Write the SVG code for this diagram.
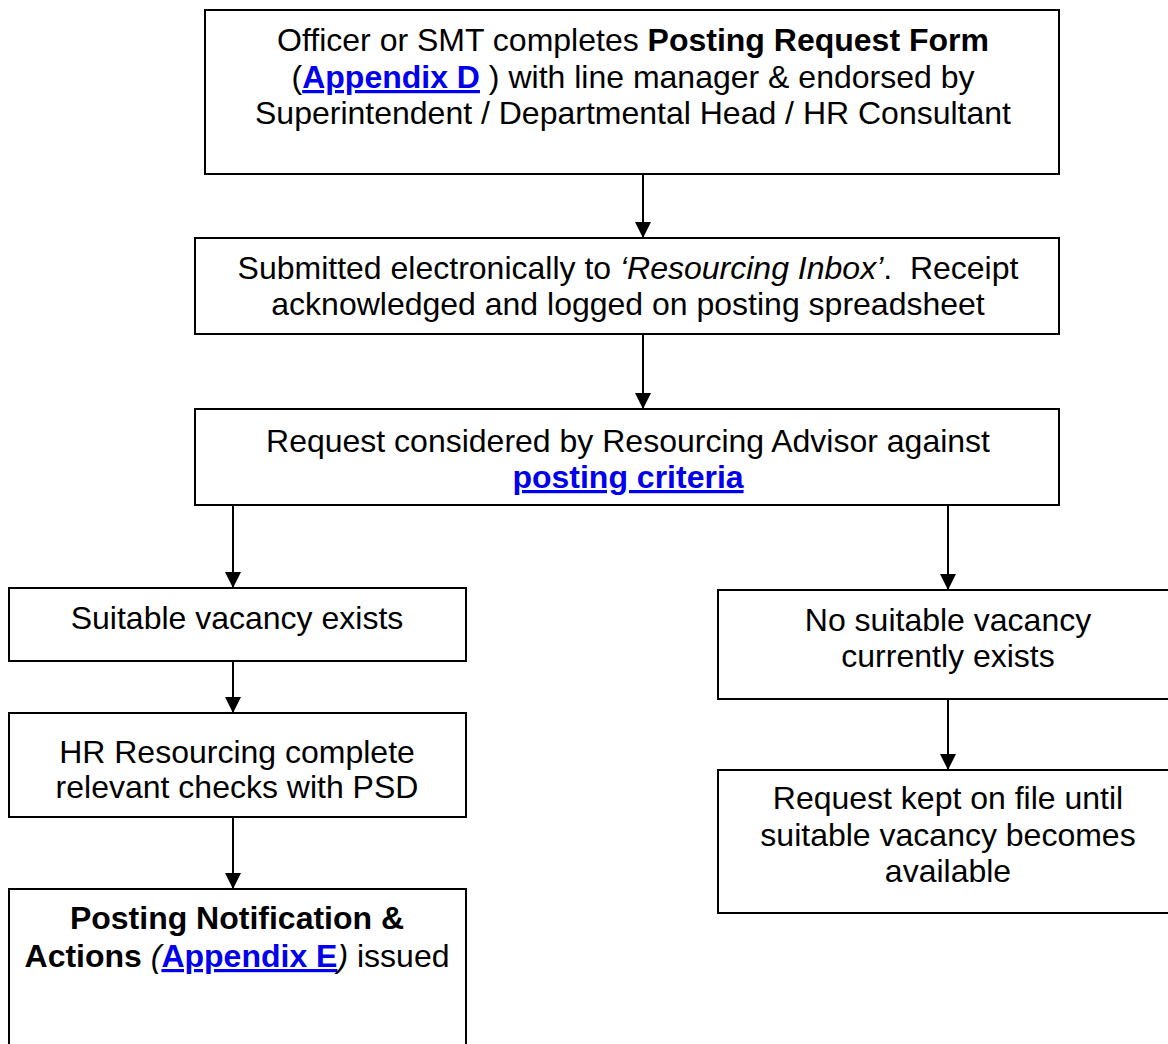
<svg xmlns="http://www.w3.org/2000/svg" width="1168" height="1044" viewBox="0 0 1168 1044">
<style>
.box{fill:#fff;stroke:#000;stroke-width:2}
.t{font-family:"Liberation Sans",Arial,sans-serif;font-size:32px;fill:#000;text-anchor:middle}
.b{font-weight:bold}
.i{font-style:italic}
.lnk{font-weight:bold;fill:#0000ee;text-decoration:underline}
.con{stroke:#000;stroke-width:2;fill:none;marker-end:url(#ah)}
</style>
<defs>
<marker id="ah" markerWidth="8" markerHeight="8" refX="8" refY="4" orient="auto" markerUnits="strokeWidth">
<path d="M0,0 L8,4 L0,8 Z" fill="#000"/>
</marker>
</defs>
<rect width="1168" height="1044" fill="#fff"/>
<g id="connectors">
<line class="con" x1="643" y1="174" x2="643" y2="238"/>
<line class="con" x1="643" y1="334" x2="643" y2="409"/>
<line class="con" x1="233" y1="505" x2="233" y2="588"/>
<line class="con" x1="948" y1="505" x2="948" y2="590"/>
<line class="con" x1="233" y1="661" x2="233" y2="713"/>
<line class="con" x1="233" y1="817" x2="233" y2="889"/>
<line class="con" x1="948" y1="699" x2="948" y2="770"/>
</g>
<g id="n1">
<rect class="box" x="205" y="10" width="854" height="164"/>
<text class="t" y="51"><tspan x="633">Officer or SMT completes <tspan class="b">Posting Request Form</tspan></tspan><tspan x="633" y="88">(<tspan class="lnk">Appendix D</tspan> ) with line manager &amp; endorsed by</tspan><tspan x="633" y="124">Superintendent / Departmental Head / HR Consultant</tspan></text>
</g>
<g id="n2">
<rect class="box" x="195" y="238" width="864" height="96"/>
<text class="t" y="279"><tspan x="628">Submitted electronically to <tspan class="i">‘Resourcing Inbox’</tspan>.&#160; Receipt</tspan><tspan x="628" y="315">acknowledged and logged on posting spreadsheet</tspan></text>
</g>
<g id="n3">
<rect class="box" x="195" y="409" width="864" height="96"/>
<text class="t" y="452"><tspan x="628">Request considered by Resourcing Advisor against</tspan><tspan x="628" y="488" class="lnk">posting criteria</tspan></text>
</g>
<g id="n4">
<rect class="box" x="9" y="588" width="457" height="73"/>
<text class="t" x="237" y="629">Suitable vacancy exists</text>
</g>
<g id="n5">
<rect class="box" x="9" y="713" width="457" height="104"/>
<text class="t" y="763"><tspan x="237">HR Resourcing complete</tspan><tspan x="237" y="798">relevant checks with PSD</tspan></text>
</g>
<g id="n6">
<rect class="box" x="9" y="889" width="457" height="170"/>
<text class="t" y="929"><tspan x="237" class="b">Posting Notification &amp;</tspan><tspan x="237" y="967"><tspan class="b">Actions</tspan> <tspan class="i">(</tspan><tspan class="lnk">Appendix E</tspan><tspan class="i">)</tspan> issued</tspan></text>
</g>
<g id="n7">
<rect class="box" x="718" y="590" width="462" height="109"/>
<text class="t" y="631"><tspan x="948">No suitable vacancy</tspan><tspan x="948" y="667">currently exists</tspan></text>
</g>
<g id="n8">
<rect class="box" x="718" y="770" width="462" height="143"/>
<text class="t" y="809"><tspan x="948">Request kept on file until</tspan><tspan x="948" y="846">suitable vacancy becomes</tspan><tspan x="948" y="882">available</tspan></text>
</g>
</svg>
